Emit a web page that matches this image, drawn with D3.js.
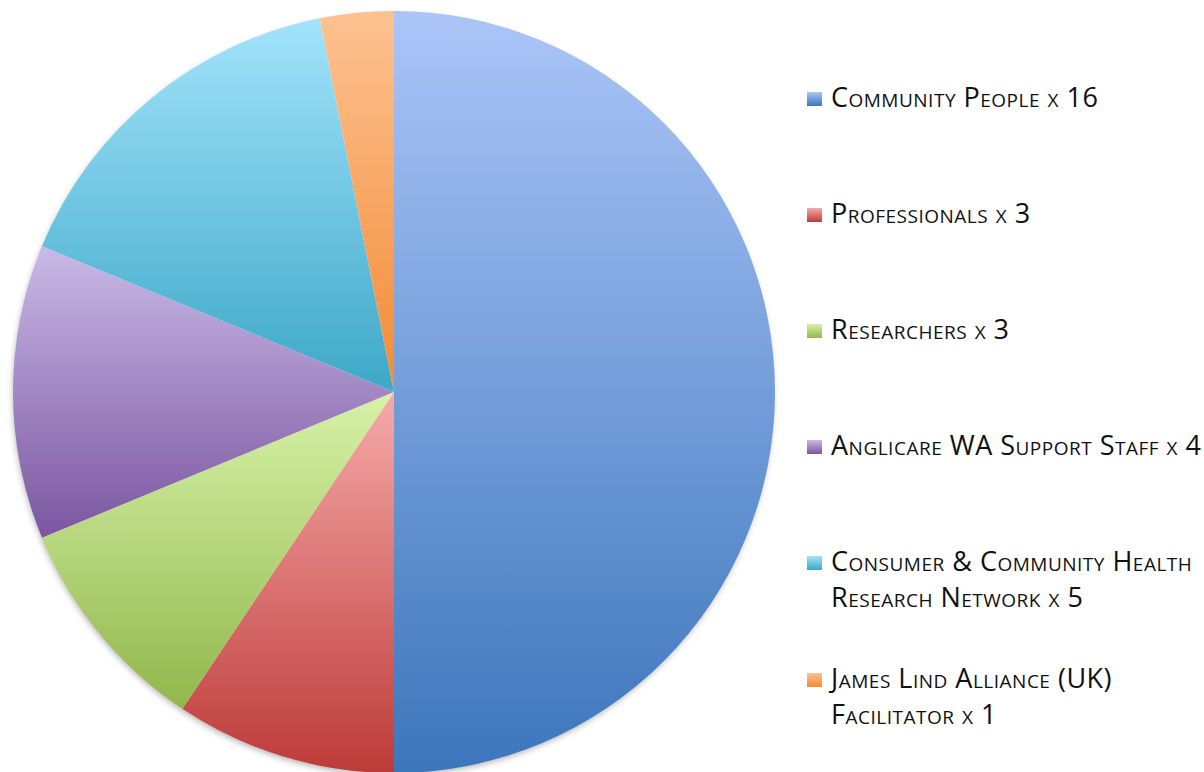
<!DOCTYPE html>
<html><head><meta charset="utf-8">
<script src="https://cdn.jsdelivr.net/npm/d3@7"></script>
<style>body{margin:0;background:#fff}svg{display:block}</style>
</head><body>
<svg id="chart" width="1204" height="772"></svg>
<script>
const categories = ["Community People", "Professionals", "Researchers", "Anglicare WA Support Staff", "Consumer & Community Health Research Network", "James Lind Alliance (UK) Facilitator"];
const values = [16, 3, 3, 4, 5, 1];
const legendLines = [["Community People x 16"], ["Professionals x 3"], ["Researchers x 3"], ["Anglicare WA Support Staff x 4"], ["Consumer & Community Health", "Research Network x 5"], ["James Lind Alliance (UK)", "Facilitator x 1"]];
const topColors = ["#abc5f8", "#f6abaa", "#d8f2a8", "#cab9e6", "#a3e3fb", "#fdc292"];
const bottomColors = ["#3c76bb", "#bd3b39", "#91b74c", "#7a56a0", "#3ca8c7", "#f38b35"];

const svg = d3.select("#chart");
const defs = svg.append("defs");
categories.forEach((c, i) => {
  const g = defs.append("linearGradient").attr("id", "g" + i).attr("x1", 0).attr("y1", 0).attr("x2", 0).attr("y2", 1);
  g.append("stop").attr("offset", "0%").attr("stop-color", topColors[i]);
  g.append("stop").attr("offset", "100%").attr("stop-color", bottomColors[i]);
});
const f = defs.append("filter").attr("id", "sh").attr("x", "-10%").attr("y", "-10%").attr("width", "120%").attr("height", "120%");
f.append("feDropShadow").attr("dx", -1).attr("dy", 3).attr("stdDeviation", 3).attr("flood-color", "#000").attr("flood-opacity", 0.3);

const cx = 394, cy = 392, R = 381;
const pie = d3.pie().sort(null).value(d => d)(values);
const arc = d3.arc().innerRadius(0).outerRadius(R);
const pg = svg.append("g").attr("transform", `translate(${cx},${cy})`);
pg.append("circle").attr("r", R - 1).attr("fill", "#fff").attr("filter", "url(#sh)");
pg.selectAll("path").data(pie).join("path")
  .attr("d", arc)
  .attr("fill", (d, i) => `url(#g${i})`);

const lg = svg.append("g").attr("font-family", "'Open Sans', sans-serif").attr("font-size", 27)
  .attr("letter-spacing", 0.5).style("font-variant", "small-caps").attr("fill", "#111");
const y0 = [92, 208, 324, 440, 556, 673];
legendLines.forEach((lines, i) => {
  const g = lg.append("g").attr("transform", `translate(807,${y0[i]})`);
  g.append("rect").attr("width", 15).attr("height", 14).attr("fill", `url(#g${i})`);
  lines.forEach((t, j) => {
    g.append("text").attr("x", 24).attr("y", 15 + j * 36).text(t);
  });
});
</script>
</body></html>
